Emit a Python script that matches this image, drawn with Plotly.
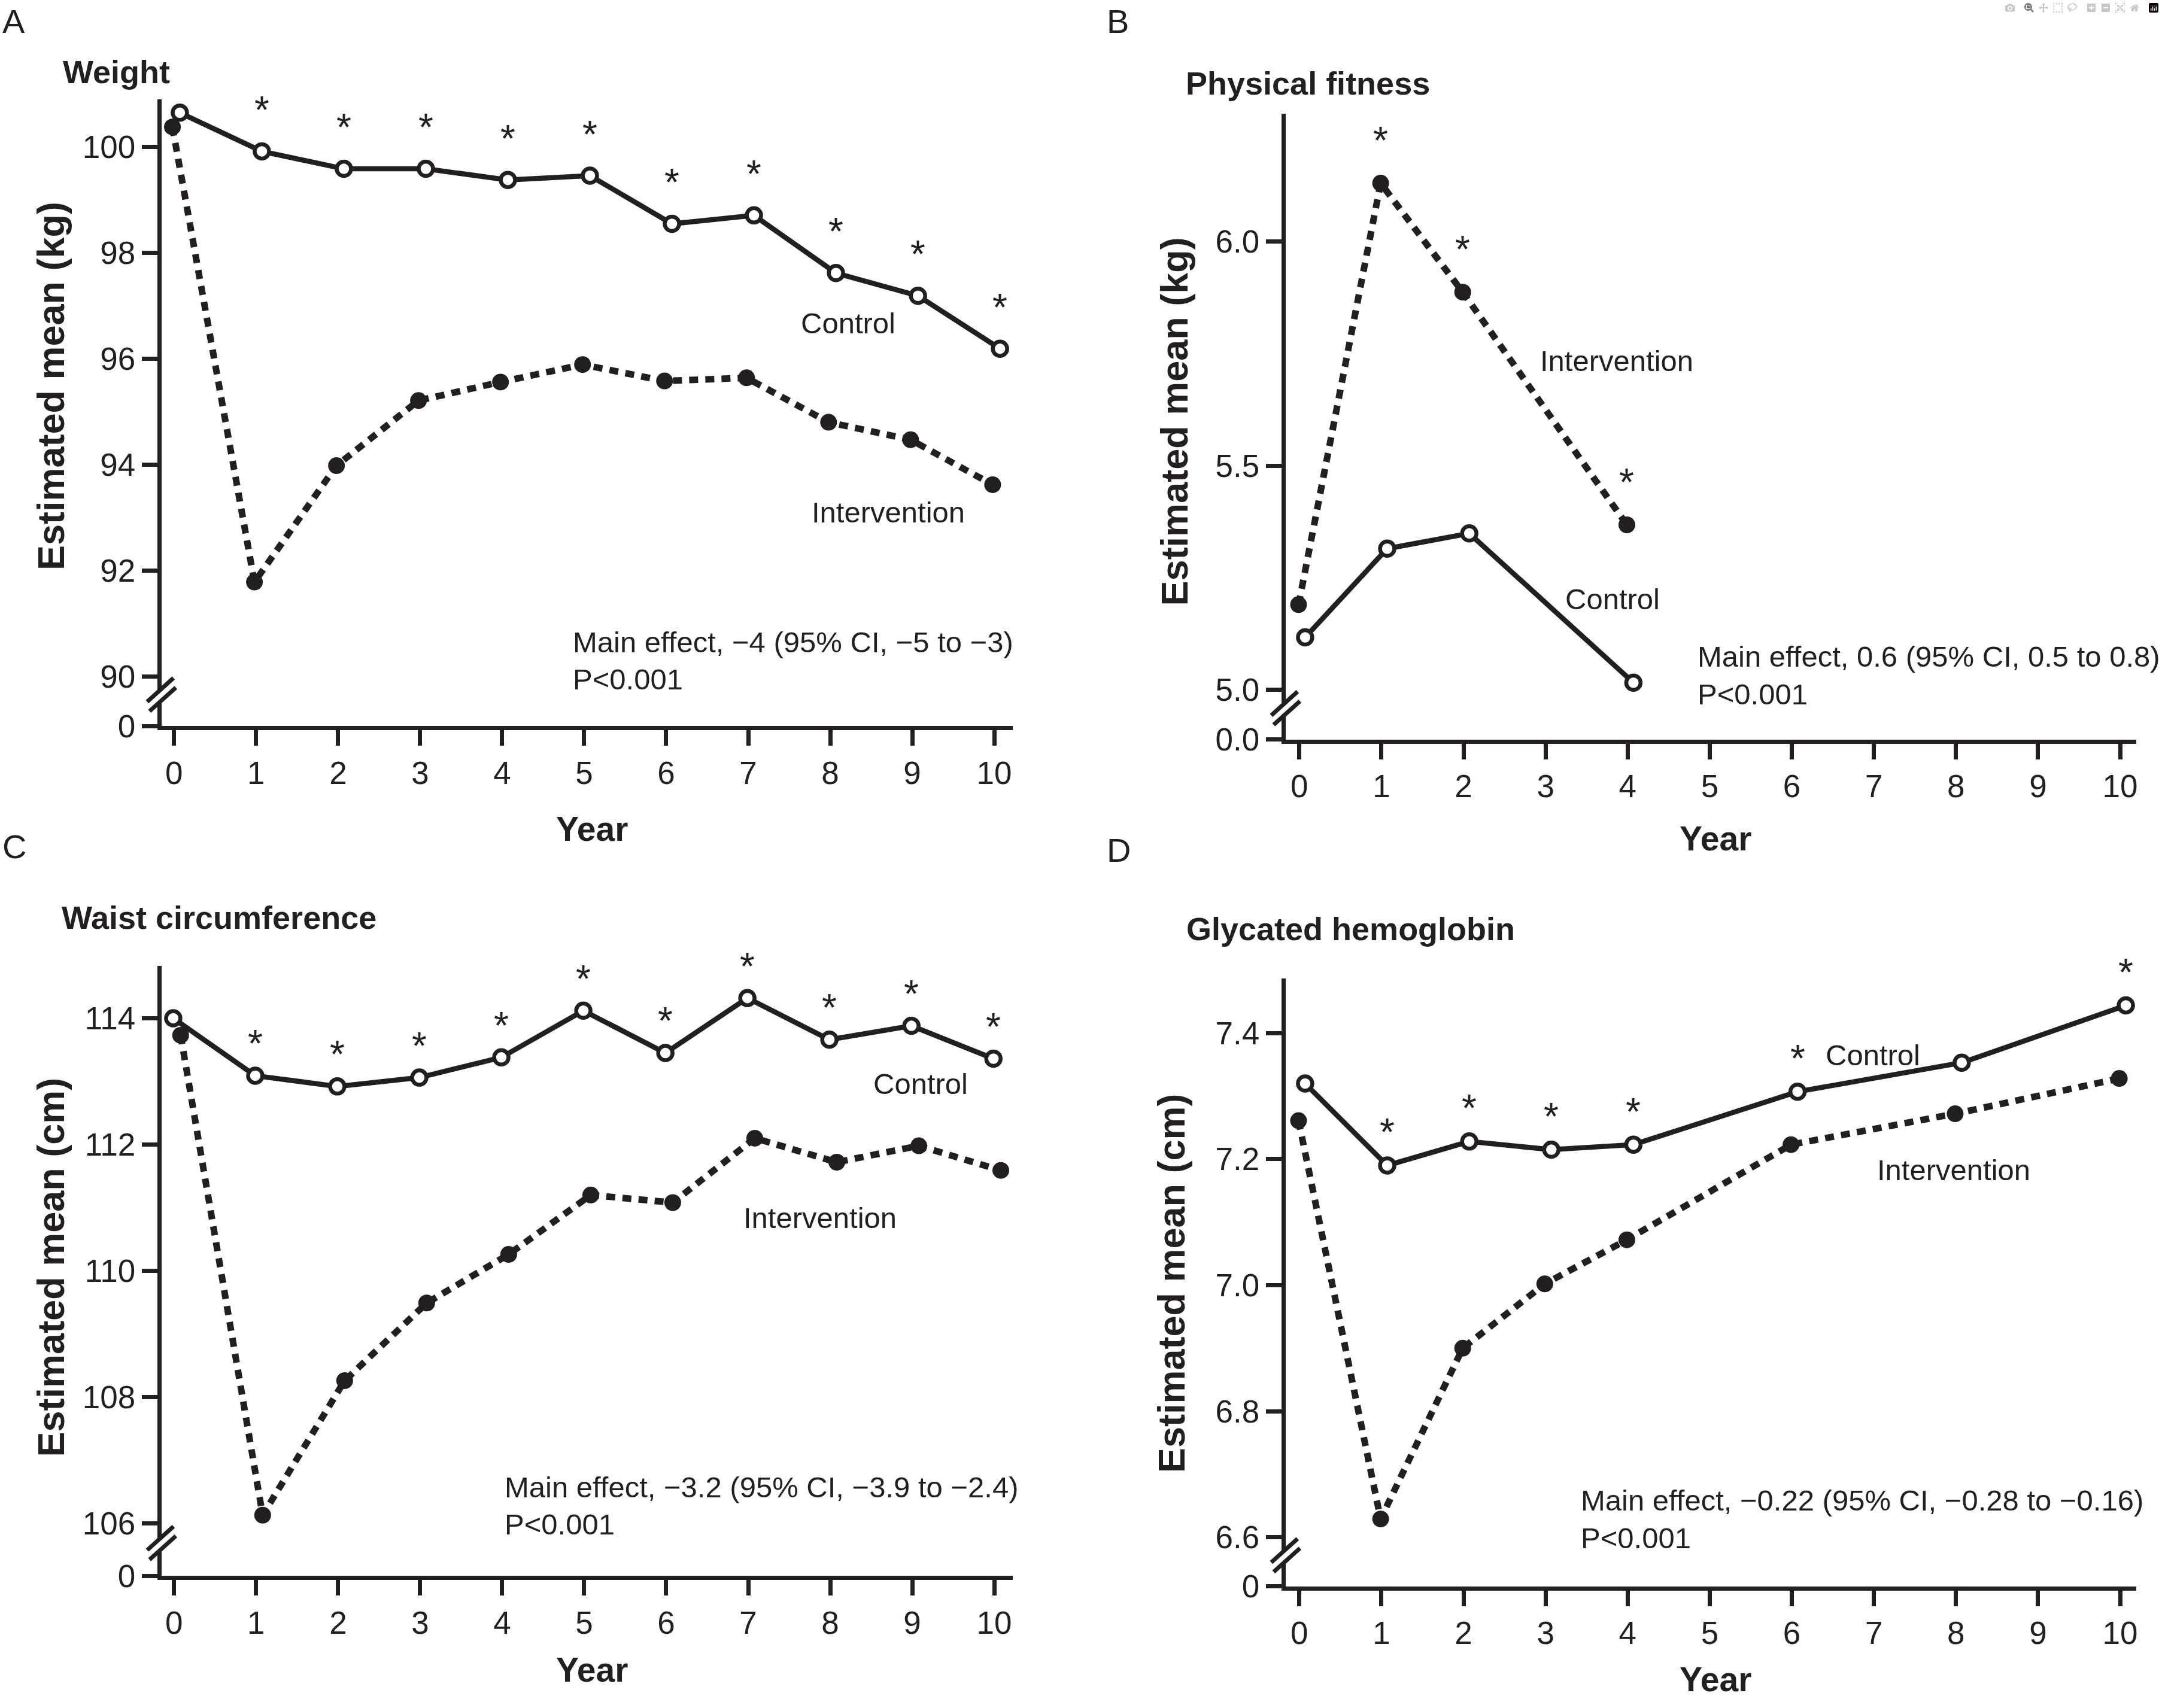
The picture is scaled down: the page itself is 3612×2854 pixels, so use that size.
# Four-panel figure: estimated means over 10 years, Control vs Intervention
import plotly.graph_objects as go

W, H = 3612, 2854
INK = '#231f20'
FONT = 'Liberation Sans, Arial, Helvetica, sans-serif'

# ── data ──
YEARS_A = [0, 1, 2, 3, 4, 5, 6, 7, 8, 9, 10]
A_CONTROL = [100.65, 99.92, 99.59, 99.59, 99.38, 99.46, 98.55, 98.71, 97.62, 97.19, 96.19]
A_INTERV = [100.38, 91.78, 93.98, 95.21, 95.56, 95.89, 95.58, 95.64, 94.80, 94.47, 93.62]
A_SIG = [1, 2, 3, 4, 5, 6, 7, 8, 9, 10]

YEARS_B = [0, 1, 2, 4]
B_CONTROL = [5.117, 5.315, 5.349, 5.016]
B_INTERV = [5.19, 6.13, 5.887, 5.368]
B_SIG = [1, 2, 4]

YEARS_C = [0, 1, 2, 3, 4, 5, 6, 7, 8, 9, 10]
C_CONTROL = [114.0, 113.09, 112.92, 113.06, 113.38, 114.12, 113.45, 114.32, 113.66, 113.88, 113.36]
C_INTERV = [113.73, 106.13, 108.26, 109.49, 110.26, 111.2, 111.08, 112.1, 111.72, 111.98, 111.59]
C_SIG = [1, 2, 3, 4, 5, 6, 7, 8, 9, 10]

YEARS_D = [0, 1, 2, 3, 4, 6, 8, 10]
D_CONTROL = [7.32, 7.19, 7.228, 7.215, 7.223, 7.307, 7.353, 7.444]
D_INTERV = [7.261, 6.629, 6.9, 7.002, 7.072, 7.223, 7.272, 7.328]
D_SIG = [1, 2, 3, 4, 6, 10]

X_TICKS = [0, 1, 2, 3, 4, 5, 6, 7, 8, 9, 10]

A_YTICKS = [90, 92, 94, 96, 98, 100]
B_YTICKS = [5.0, 5.5, 6.0]
C_YTICKS = [106, 108, 110, 112, 114]
D_YTICKS = [6.6, 6.8, 7.0, 7.2, 7.4]

A_YLABELS = ['90', '92', '94', '96', '98', '100']
B_YLABELS = ['5.0', '5.5', '6.0']
C_YLABELS = ['106', '108', '110', '112', '114']
D_YLABELS = ['6.6', '6.8', '7.0', '7.2', '7.4']

# ── panel layout (pixel geometry of each plot box) ──
panels = [
    dict(n=1, letter='A', title='Weight', unit='Estimated mean (kg)',
         years=YEARS_A, ctrl=A_CONTROL, intv=A_INTERV, sig=A_SIG, sig_on='ctrl',
         yticks=A_YTICKS, ylabels=A_YLABELS, zero='0',
         box=(270, 1693, 168, 1226), xr=(-0.153, 10.226), yr=(89.06, 100.9),
         dx=(0.07, -0.02), star=81,
         effect='Main effect, −4 (95% CI, −5 to −3)',
         letter_xy=(2, 36), title_xy=(103, 121), ytitle_xy=(85, 652), year_xy=(990, 1400),
         ctrl_xy=(1418, 546), intv_xy=(1485, 865), eff_xy=(956, 1084)),
    dict(n=2, letter='B', title='Physical fitness', unit='Estimated mean (kg)',
         years=YEARS_B, ctrl=B_CONTROL, intv=B_INTERV, sig=B_SIG, sig_on='intv',
         yticks=B_YTICKS, ylabels=B_YLABELS, zero='0.0',
         box=(2149, 3571, 192, 1249), xr=(-0.168, 10.197), yr=(4.889, 6.285),
         dx=(0.07, -0.01), star=83,
         effect='Main effect, 0.6 (95% CI, 0.5 to 0.8)',
         letter_xy=(1848, 36), title_xy=(1980, 140), ytitle_xy=(1963, 712), year_xy=(2868, 1416),
         ctrl_xy=(2695, 1012), intv_xy=(2702, 609), eff_xy=(2836, 1109)),
    dict(n=3, letter='C', title='Waist circumference', unit='Estimated mean (cm)',
         years=YEARS_C, ctrl=C_CONTROL, intv=C_INTERV, sig=C_SIG, sig_on='ctrl',
         yticks=C_YTICKS, ylabels=C_YLABELS, zero='0',
         box=(270, 1693, 1631, 2661), xr=(-0.153, 10.226), yr=(105.17, 114.83),
         dx=(-0.01, 0.08), star=65,
         effect='Main effect, −3.2 (95% CI, −3.9 to −2.4)',
         letter_xy=(2, 1430), title_xy=(101, 1549), ytitle_xy=(85, 2140), year_xy=(990, 2820),
         ctrl_xy=(1539, 1830), intv_xy=(1371, 2057), eff_xy=(841, 2511)),
    dict(n=4, letter='D', title='Glycated hemoglobin', unit='Estimated mean (cm)',
         years=YEARS_D, ctrl=D_CONTROL, intv=D_INTERV, sig=D_SIG, sig_on='ctrl',
         yticks=D_YTICKS, ylabels=D_YLABELS, zero='0',
         box=(2149, 3571, 1652, 2679), xr=(-0.168, 10.197), yr=(6.522, 7.487),
         dx=(0.07, -0.01), star=67,
         effect='Main effect, −0.22 (95% CI, −0.28 to −0.16)',
         letter_xy=(1848, 1436), title_xy=(1981, 1568), ytitle_xy=(1958, 2167), year_xy=(2868, 2836),
         ctrl_xy=(3131, 1782), intv_xy=(3266, 1976), eff_xy=(2640, 2534)),
]


def px(x):
    return x / W


def py(y):
    return 1 - y / H


fig = go.Figure()
annotations = []
shapes = []

for p in panels:
    n = p['n']
    xa = 'x' if n == 1 else f'x{n}'
    ya = 'y' if n == 1 else f'y{n}'
    x0, x1, top, bot = p['box']
    cdx, idx = p['dx']

    # intervention: dotted line with filled dots
    fig.add_trace(go.Scatter(
        x=[v + idx for v in p['years']], y=p['intv'], xaxis=xa, yaxis=ya,
        mode='lines+markers', cliponaxis=False, showlegend=False,
        line=dict(color=INK, width=11, dash='15px,12px'),
        marker=dict(symbol='circle', size=28, color=INK),
    ))
    # control: solid line with open circles
    fig.add_trace(go.Scatter(
        x=[v + cdx for v in p['years']], y=p['ctrl'], xaxis=xa, yaxis=ya,
        mode='lines+markers', cliponaxis=False, showlegend=False,
        line=dict(color=INK, width=8.5),
        marker=dict(symbol='circle', size=24, color='white', line=dict(color=INK, width=6.5)),
    ))

    axis_common = dict(showline=True, linewidth=7, linecolor=INK, ticks='outside',
                       ticklen=26, tickwidth=7, tickcolor=INK, showgrid=False, zeroline=False,
                       tickfont=dict(family=FONT, size=53, color=INK))
    fig.update_layout(**{
        ('xaxis' if n == 1 else f'xaxis{n}'): dict(
            axis_common, domain=[px(x0), px(x1)], anchor=ya, range=list(p['xr']),
            tickvals=X_TICKS, ticktext=[str(t) for t in X_TICKS]),
        ('yaxis' if n == 1 else f'yaxis{n}'): dict(
            axis_common, domain=[py(bot), py(top)], anchor=xa, range=list(p['yr']),
            tickvals=[p['yr'][0]] + p['yticks'], ticktext=[p['zero']] + p['ylabels']),
    })

    # significance stars
    series = p['ctrl'] if p['sig_on'] == 'ctrl' else p['intv']
    dx = cdx if p['sig_on'] == 'ctrl' else idx
    for yr in p['sig']:
        i = p['years'].index(yr)
        annotations.append(dict(x=yr + dx, y=series[i], xref=xa, yref=ya, text='*',
                                showarrow=False, yshift=p['star'] - 12,
                                font=dict(family=FONT, size=64, color=INK)))

    # axis break marks (//) between the zero tick and the first real tick
    lo = p['yr'][0]
    first = p['yticks'][0]
    mid_val = (lo + first) / 2
    cy = bot - (mid_val - lo) / (p['yr'][1] - lo) * (bot - top) - 11
    cx = x0
    shapes.append(dict(type='line', xref='paper', yref='paper', layer='above',
                       x0=px(cx - 14), y0=py(cy + 13), x1=px(cx + 14), y1=py(cy - 13),
                       line=dict(color='white', width=14)))
    for ox, oy in ((-2, -8), (2, 8)):
        shapes.append(dict(type='line', xref='paper', yref='paper', layer='above',
                           x0=px(cx + ox - 22), y0=py(cy + oy + 20),
                           x1=px(cx + ox + 22), y1=py(cy + oy - 20),
                           line=dict(color=INK, width=7)))

    # texts
    lx, ly = p['letter_xy']
    annotations.append(dict(x=px(lx), y=py(ly), xref='paper', yref='paper', text=p['letter'],
                            xanchor='left', yanchor='middle', showarrow=False,
                            font=dict(family=FONT, size=56, color=INK)))
    tx, ty = p['title_xy']
    annotations.append(dict(x=px(tx), y=py(ty), xref='paper', yref='paper', text=p['title'],
                            xanchor='left', yanchor='middle', showarrow=False,
                            font=dict(family=FONT, size=54, color=INK, weight='bold')))
    ux, uy = p['ytitle_xy']
    annotations.append(dict(x=px(ux), y=py(uy), xref='paper', yref='paper', text=p['unit'],
                            textangle=-90, xanchor='center', yanchor='middle', showarrow=False,
                            font=dict(family=FONT, size=63, color=INK, weight='bold')))
    yx, yy = p['year_xy']
    annotations.append(dict(x=px(yx), y=py(yy), xref='paper', yref='paper', text='Year',
                            xanchor='center', yanchor='middle', showarrow=False,
                            font=dict(family=FONT, size=57, color=INK, weight='bold')))
    for label, key in (('Control', 'ctrl_xy'), ('Intervention', 'intv_xy')):
        gx, gy = p[key]
        annotations.append(dict(x=px(gx), y=py(gy), xref='paper', yref='paper', text=label,
                                xanchor='center', yanchor='middle', showarrow=False,
                                font=dict(family=FONT, size=49, color=INK)))
    ex, ey = p['eff_xy']
    annotations.append(dict(x=px(ex), y=py(ey), xref='paper', yref='paper', text=p['effect'],
                            xanchor='left', yanchor='middle', showarrow=False,
                            font=dict(family=FONT, size=49, color=INK)))
    annotations.append(dict(x=px(ex), y=py(ey + 63), xref='paper', yref='paper', text='P<0.001',
                            xanchor='left', yanchor='middle', showarrow=False,
                            font=dict(family=FONT, size=49, color=INK)))

fig.update_layout(
    width=W, height=H,
    margin=dict(l=0, r=0, t=0, b=0),
    paper_bgcolor='white',
    plot_bgcolor='white',
    showlegend=False,
    annotations=annotations,
    shapes=shapes,
)

fig.write_html('out.html', post_script="document.body.style.margin='0px';")
